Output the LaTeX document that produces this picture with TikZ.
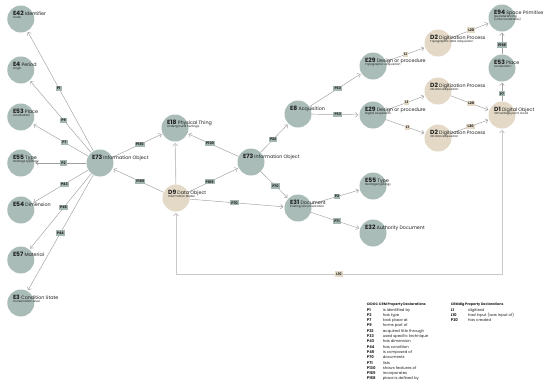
\documentclass[tikz,border=0pt]{standalone}
\usepackage{fontspec}
\setmainfont{Poppins}
\usetikzlibrary{arrows.meta,calc}
\definecolor{cgreen}{HTML}{A9BCB7}
\definecolor{cbeige}{HTML}{E3D9C6}
\definecolor{pboxc}{HTML}{A3B6B1}
\definecolor{lgray}{HTML}{A0A0A0}
\definecolor{vgray}{HTML}{C9C9C9}
\definecolor{txtc}{HTML}{1F1F1F}
\newcommand\idf{\fontsize{6}{6}\selectfont\bfseries}
\newcommand\nmf{\fontsize{4.8}{4.8}\selectfont}
\newcommand\sbf{\fontsize{2.9}{3.2}\selectfont}
\newcommand\lbf{\fontsize{3.5}{3.5}\selectfont\bfseries}
\newcommand\lgf{\fontsize{3.8}{3.8}\selectfont}
\newcommand\lgh{\fontsize{3.4}{3.4}\selectfont\bfseries}
\newcommand\ttext[4]{%
  \node[ttl] (#1t) at ([shift={(-8,-4)}]#1.center) {{\idf #2}\hspace{1.2pt}{\nmf #3}};
  \if\relax\detokenize{#4}\relax\else
  \node[subt] (#1s) at ([shift={(-8,-0.6)}]#1.center) {#4};\fi}
\tikzset{
  cg/.style={circle, fill=cgreen, minimum size=27pt, inner sep=0pt},
  cb/.style={circle, fill=cbeige, minimum size=27pt, inner sep=0pt},
  ttl/.style={anchor=base west, inner sep=0pt, text=txtc},
  subt/.style={anchor=base west, inner sep=0pt, text=txtc, font=\sbf},
  rel/.style={draw=lgray, line width=0.45pt, shorten >=1pt, -{Straight Barb[length=2.6pt,width=4.6pt]}},
  thk/.style={draw=vgray, line width=0.9pt},
  plab/.style={fill=pboxc, inner xsep=1.2pt, inner ysep=1.3pt, font=\lbf, text=txtc},
  llab/.style={fill=cbeige, inner xsep=1.2pt, inner ysep=1.3pt, font=\lbf, text=txtc},
  lgk/.style={anchor=base west, inner sep=0pt, font=\lgf\bfseries, text=txtc},
  lgd/.style={anchor=base west, inner sep=0pt, font=\lgf, text=txtc},
  lgt/.style={anchor=base west, inner sep=0pt, font=\lgh, text=txtc}
}
\begin{document}
\begin{tikzpicture}[x=1pt,y=-1pt]
\fill[white] (0,0) rectangle (550,386);
\useasboundingbox (0,0) rectangle (550,386);
% entity circles
\node[cg] (e42) at (20.8,19) {};
\node[cg] (e4)  at (20.8,70) {};
\node[cg] (e53a) at (20.8,117) {};
\node[cg] (e55a) at (20.8,163) {};
\node[cg] (e54) at (20.8,210) {};
\node[cg] (e57) at (20.8,260) {};
\node[cg] (e3)  at (20.8,303) {};
\node[cg] (e73a) at (100,163) {};
\node[cg] (e18) at (175,128) {};
\node[cb] (d9)  at (176,198) {};
\node[cg] (e73b) at (251,162) {};
\node[cg] (e8)  at (298,114) {};
\node[cg] (e31) at (298,208) {};
\node[cg] (e55b) at (373,186) {};
\node[cg] (e32) at (373,233) {};
\node[cg] (e29a) at (373,66) {};
\node[cg] (e29b) at (373,115) {};
\node[cb] (d2a) at (438,43) {};
\node[cb] (d2b) at (438,91) {};
\node[cb] (d2c) at (438,138) {};
\node[cb] (d1)  at (502,115) {};
\node[cg] (e53b) at (502,68) {};
\node[cg] (e94) at (502,18) {};
\coordinate (l10y) at (0,274);
% connectors
\draw[rel] (e73a) -- (e42);
\draw[rel] (e73a) -- (e4);
\draw[rel] (e73a) -- (e53a);
\draw[rel] (e73a) -- (e55a);
\draw[rel] (e73a) -- (e54);
\draw[rel] (e73a) -- (e57);
\draw[rel] (e73a) -- (e3);
\draw[rel] (e73a) -- (e18);
\draw[rel] (d9) -- (e73a);
\draw[thk, shorten >=1pt, -{Straight Barb[length=2.6pt,width=4.6pt]}] (d9) -- (e18);
\draw[rel] (e73b) -- (e18);
\draw[rel] (d9) -- (e73b);
\draw[rel] (e73b) -- (e8);
\draw[rel] (e73b) -- (e31);
\draw[rel] (d9) -- (e31);
\draw[rel] (e8) -- (e29a);
\draw[rel] (e8) -- (e29b);
\draw[rel] (e29a) -- (d2a);
\draw[rel] (e29b) -- (d2b);
\draw[rel] (e29b) -- (d2c);
\draw[rel] (d2a) -- (e94);
\draw[rel] (d2b) -- (d1);
\draw[rel] (d2c) -- (d1);
\draw[rel] (e53b) -- (e94);
\draw[rel] (d1) -- (e53b);
\draw[rel] (e31) -- (e55b);
\draw[rel] (e31) -- (e32);
\draw[thk, shorten <=1pt, shorten >=1pt, {Straight Barb[length=2.6pt,width=4.6pt]}-{Straight Barb[length=2.6pt,width=4.6pt]}] (d9) -- (d9 |- l10y) -| (d1);
% property labels
\node[plab] (lp1)  at ($(e73a)!0.52!(e42)$) {P1};
\node[plab] (lp9)  at ($(e73a)!0.46!(e4)$) {P9};
\node[plab] (lp7)  at ($(e73a)!0.45!(e53a)$) {P7};
\node[plab] (lp2)  at ($(e73a)!0.46!(e55a)$) {P2};
\node[plab] (lp43) at ($(e73a)!0.45!(e54)$) {P43};
\node[plab] (lp45) at ($(e73a)!0.46!(e57)$) {P45};
\node[plab] (lp44) at ($(e73a)!0.5!(e3)$) {P44};
\node[plab] (lp130a) at ($(e73a)!0.53!(e18)$) {P130};
\node[plab] (lp165a) at ($(d9)!0.47!(e73a)$) {P165};
\node[plab] (lp130b) at ($(e73b)!0.54!(e18)$) {P130};
\node[plab] (lp165b) at ($(d9)!0.45!(e73b)$) {P165};
\node[plab] (lp22) at ($(e73b)!0.47!(e8)$) {P22};
\node[plab] (lp70a) at ($(e73b)!0.52!(e31)$) {P70};
\node[plab] (lp70b) at ($(d9)!0.48!(e31)$) {P70};
\node[plab] (lp33a) at ($(e8)!0.53!(e29a)$) {P33};
\node[plab] (lp33b) at ($(e8)!0.53!(e29b)$) {P33};
\node[llab] (ll1a) at ($(e29a)!0.5!(d2a)$) {L1};
\node[llab] (ll1b) at ($(e29b)!0.52!(d2b)$) {L1};
\node[llab] (ll1c) at ($(e29b)!0.53!(d2c)$) {L1};
\node[llab] (ll20a) at ($(d2a)!0.52!(e94)$) {L20};
\node[llab] (ll20b) at ($(d2b)!0.52!(d1)$) {L20};
\node[llab] (ll20c) at ($(d2c)!0.51!(d1)$) {L20};
\node[plab] (lp168) at ($(e53b)!0.46!(e94)$) {P168};
\node[plab] (lp7b) at ($(d1)!0.45!(e53b)$) {P7};
\node[plab] (lp2b) at ($(e31)!0.52!(e55b)$) {P2};
\node[plab] (lp71) at ($(e31)!0.52!(e32)$) {P71};
\node[llab] (ll10) at ($(d9 |- l10y)!0.5!(d1 |- l10y)$) {L10};
% entity texts
\ttext{e42}{E42}{Identifier}{Code}
\ttext{e4}{E4}{Period}{Origin}
\ttext{e53a}{E53}{Place}{Localisation}
\ttext{e55a}{E55}{Type}{Heritage typology}
\ttext{e54}{E54}{Dimension}{}
\ttext{e57}{E57}{Material}{}
\ttext{e3}{E3}{Condition State}{Conservation level}
\ttext{e73a}{E73}{Information Object}{}
\ttext{e18}{E18}{Physical Thing}{Underground heritage}
\ttext{d9}{D9}{Data Object}{Information Model}
\ttext{e73b}{E73}{Information Object}{}
\ttext{e8}{E8}{Acquisition}{}
\ttext{e31}{E31}{Document}{Existing documentation}
\ttext{e55b}{E55}{Type}{Heritage typology}
\ttext{e32}{E32}{Authority Document}{}
\ttext{e29a}{E29}{Design or procedure}{Topographic acquisition}
\ttext{e29b}{E29}{Design or procedure}{Digital Acquisition}
\ttext{d2a}{D2}{Digitization Process}{Topographic data adquisition}
\ttext{d2b}{D2}{Digitization Process}{2D data adquisition}
\ttext{d2c}{D2}{Digitization Process}{3D data adquisition}
\ttext{d1}{D1}{Digital Object}{3D heritage point cloud}
\ttext{e53b}{E53}{Place}{Localisation}
\ttext{e94}{E94}{Space Primitive}{Georeferencing}
\node[subt] (e94s2) at ([shift={(-8,2.7)}]e94.center) {(UTM coordinates)};
% legend
\node[lgt] (lgh1) at (366.7,305) {CIDOC CRM Property Declarations};
\foreach \k/\d [count=\i from 0] in {P1/is identified by,P2/has type,P7/took place at,P9/forms part of,P22/acquired title through,P33/used specific technique,P43/has dimension,P44/has condition,P45/is composed of,P70/documents,P71/lists,P130/shows features of,P165/incorporates,P168/place is defined by}{
  \node[lgk] (lk\i) at (366.7,{311+5.3*\i}) {\k};
  \node[lgd] (ld\i) at (382.7,{311+5.3*\i}) {\d};
}
\node[lgt] (lgh2) at (450.7,305) {CRMdig Property Declarations};
\foreach \k/\d [count=\i from 0] in {L1/digitized,L10/had input (was input of),P20/has created}{
  \node[lgk] (mk\i) at (450.7,{311+5.3*\i}) {\k};
  \node[lgd] (md\i) at (468,{311+5.3*\i}) {\d};
}
\end{tikzpicture}
\end{document}
